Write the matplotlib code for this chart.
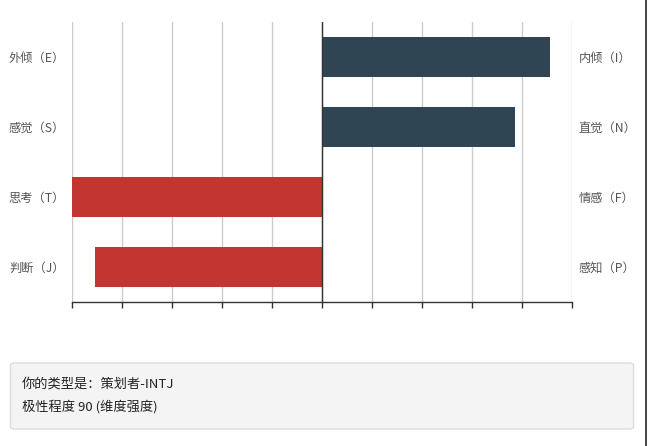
import matplotlib
matplotlib.use("Agg")
import matplotlib.pyplot as plt
from matplotlib.patches import FancyBboxPatch
from matplotlib.lines import Line2D

plt.rcParams['font.family'] = ['Noto Sans CJK SC', 'DejaVu Sans']

left_labels = ["外倾（E）", "感觉（S）", "思考（T）", "判断（J）"]
right_labels = ["内倾（I）", "直觉（N）", "情感（F）", "感知（P）"]
values = [91, 77, -100, -91]
x_ticks = [-100, -80, -60, -40, -20, 0, 20, 40, 60, 80, 100]
info_lines = ["你的类型是：策划者-INTJ", "极性程度 90 (维度强度)"]

W, H = 650, 446
fig = plt.figure(figsize=(W / 100, H / 100), dpi=100)
fig.patch.set_facecolor("white")

ax = fig.add_axes([72 / W, (H - 302) / H, 500 / W, 280 / H])
ypos = list(range(len(values)))
colors = ["#2f4554" if v >= 0 else "#c23531" for v in values]
ax.barh(ypos, values, height=0.57, color=colors, zorder=3)
ax.set_xlim(-100, 100)
ax.set_ylim(len(values) - 0.5, -0.5)
ax.set_xticks(x_ticks)
ax.set_xticklabels([])
ax.grid(axis="x", color="#cccccc", linewidth=1, zorder=0)
ax.axvline(0, color="#333333", linewidth=1, zorder=4)
for s in ["left", "right", "top"]:
    ax.spines[s].set_visible(False)
ax.spines["bottom"].set_color("#333333")
ax.spines["bottom"].set_linewidth(1)
ax.tick_params(axis="x", direction="out", length=4, width=1, color="#333333")
ax.set_yticks(ypos)
ax.set_yticklabels(left_labels, fontsize=8.8, color="#555555")
ax.tick_params(axis="y", length=0, pad=5)

ax2 = ax.twinx()
ax2.set_ylim(ax.get_ylim())
ax2.set_yticks(ypos)
ax2.set_yticklabels(right_labels, fontsize=8.8, color="#555555")
ax2.tick_params(axis="y", length=0, pad=5)
for s in ["left", "right", "top", "bottom"]:
    ax2.spines[s].set_visible(False)

box = FancyBboxPatch((10.5 / W, (H - 429) / H), 623 / W, 66 / H,
                     boxstyle="round,pad=0,rounding_size=0.006",
                     transform=fig.transFigure, facecolor="#f4f4f4",
                     edgecolor="#dddddd", linewidth=1)
fig.patches.append(box)
fig.text(22 / W, (H - 384) / H, info_lines[0], fontsize=9.5, color="#222222",
         va="center", ha="left")
fig.text(22 / W, (H - 407) / H, info_lines[1], fontsize=9.5, color="#222222",
         va="center", ha="left")

fig.lines.append(Line2D([646 / W, 646 / W], [0, 1], transform=fig.transFigure,
                        color="#222222", linewidth=1.2))

fig.savefig("out.png", dpi=100)
